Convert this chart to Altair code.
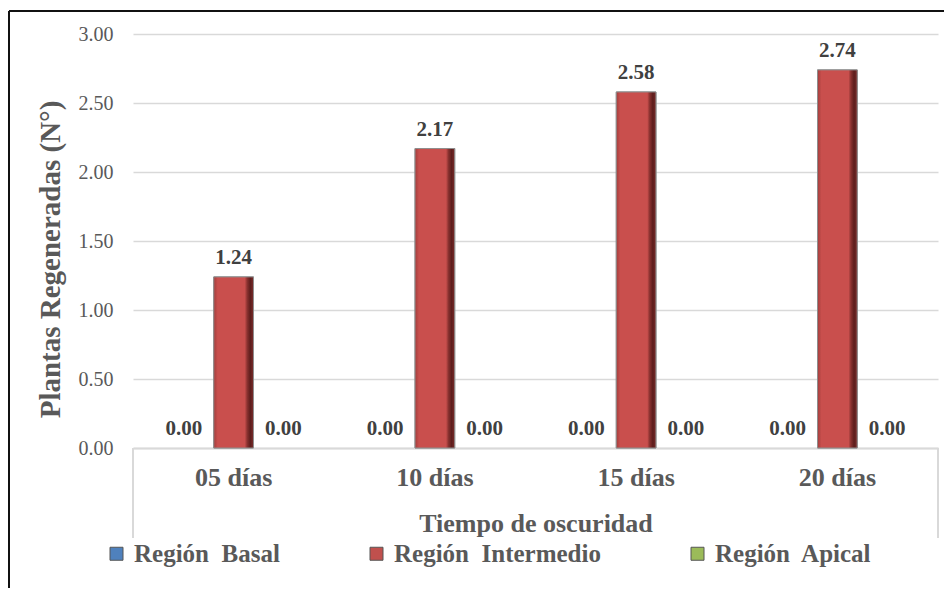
import altair as alt
import pandas as pd

categories = ["05 días", "10 días", "15 días", "20 días"]
series = ["Región\u00a0 Basal", "Región\u00a0 Intermedio", "Región\u00a0 Apical"]
basal = [0.00, 0.00, 0.00, 0.00]
intermedio = [1.24, 2.17, 2.58, 2.74]
apical = [0.00, 0.00, 0.00, 0.00]
colors = ["#4F81BD", "#C0504D", "#9BBB59"]
y_ticks = [0, 0.5, 1.0, 1.5, 2.0, 2.5, 3.0]

rows = []
for i, c in enumerate(categories):
    for s, vals in zip(series, [basal, intermedio, apical]):
        rows.append({"cat": c, "serie": s, "val": vals[i]})
df = pd.DataFrame(rows)

W, H = 805, 414
FONT = "Liberation Serif"

x_enc = alt.X("cat:N", sort=categories,
              scale=alt.Scale(paddingInner=0.26, paddingOuter=0.13),
              axis=alt.Axis(title="Tiempo de oscuridad", labelAngle=0, ticks=False,
                            domain=True, domainColor="#D9D9D9", domainWidth=2,
                            labelFont=FONT, labelFontSize=26, labelFontWeight="bold",
                            labelColor="#595959", labelPadding=16,
                            titleFont=FONT, titleFontSize=26, titleFontWeight="bold",
                            titleColor="#595959", titleY=75, titleBaseline="middle"))
xo_enc = alt.XOffset("serie:N", sort=series,
                     scale=alt.Scale(paddingInner=0.2, paddingOuter=0.1))
y_enc = alt.Y("val:Q", scale=alt.Scale(domain=[0, 3]),
              axis=alt.Axis(title="Plantas Regeneradas (N°)", values=y_ticks, format=".2f",
                            ticks=False, domain=False, grid=True, gridColor="#D9D9D9",
                            gridWidth=1.5, labelFont=FONT, labelFontSize=20,
                            labelColor="#595959", labelPadding=20,
                            titleFont=FONT, titleFontSize=29, titleFontWeight="bold",
                            titleColor="#595959", titleX=-83, titleY=225,
                            titleBaseline="middle", titleAlign="center"))
color_enc = alt.Color("serie:N", sort=series,
                      scale=alt.Scale(domain=series, range=colors),
                      legend=alt.Legend(title=None, orient="none", legendX=-29, legendY=507,
                                        direction="horizontal", symbolType="square",
                                        symbolSize=169, symbolStrokeWidth=1,
                                        symbolStrokeColor="#555555",
                                        labelFont=FONT, labelFontSize=25, labelLimit=400,
                                        labelFontWeight="bold", labelColor="#595959",
                                        columnPadding=84, labelOffset=5))

base = alt.Chart(df)

bars = base.transform_filter("datum.val > 0").mark_bar(
    stroke="#8F8F8F", strokeWidth=1
).encode(x=x_enc, xOffset=xo_enc, y=y_enc, color=color_enc)

bevel = base.transform_filter("datum.val > 0").mark_bar(
    stroke="#8F8F8F", strokeWidth=1,
    fill=alt.Gradient(
        gradient="linear", x1=0, x2=1, y1=0, y2=0,
        stops=[alt.GradientStop(offset=0, color="#A23E3C"),
               alt.GradientStop(offset=0.1, color="#C94F4D"),
               alt.GradientStop(offset=0.78, color="#C94F4D"),
               alt.GradientStop(offset=0.84, color="#8A3230"),
               alt.GradientStop(offset=0.92, color="#5C1D1C"),
               alt.GradientStop(offset=1, color="#7A2B29")])
).encode(x=alt.X("cat:N", sort=categories), xOffset=alt.XOffset("serie:N", sort=series),
         y="val:Q")

labels = base.mark_text(font=FONT, fontSize=21, fontWeight="bold", color="#404040",
                        baseline="bottom", dy=-9).encode(
    x=alt.X("cat:N", sort=categories), xOffset=alt.XOffset("serie:N", sort=series),
    y="val:Q", text=alt.Text("val:Q", format=".2f"))

one = pd.DataFrame({"p": [0]})
sep_l = alt.Chart(one).mark_rule(color="#D9D9D9", strokeWidth=2).encode(
    x=alt.value(0), y=alt.value(H), y2=alt.value(H + 90))
sep_r = alt.Chart(one).mark_rule(color="#D9D9D9", strokeWidth=2).encode(
    x=alt.value(W), y=alt.value(H), y2=alt.value(H + 90))

border_l = alt.Chart(one).mark_rule(color="#111111", strokeWidth=2).encode(
    x=alt.value(-124), y=alt.value(-23), y2=alt.value(600))
border_t = alt.Chart(one).mark_rule(color="#111111", strokeWidth=2).encode(
    x=alt.value(-124), x2=alt.value(830), y=alt.value(-23))

chart = alt.layer(bars, bevel, labels, sep_l, sep_r, border_l, border_t).properties(
    width=W, height=H,
    autosize=alt.AutoSizeParams(type="none"),
    padding={"left": 125, "top": 26, "right": 6, "bottom": 140},
).configure_view(stroke=None)

chart.save("out.html", embed_options={"renderer": "svg", "actions": False})
